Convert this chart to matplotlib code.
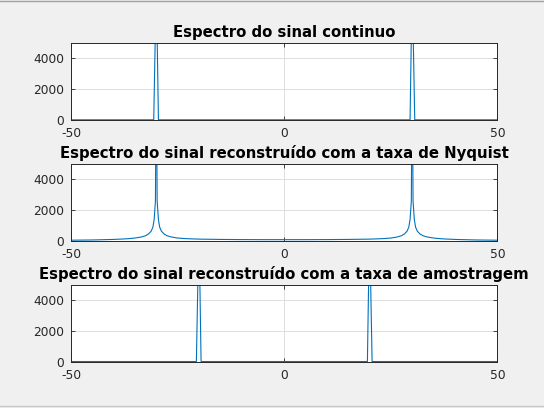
import matplotlib
matplotlib.use("Agg")
import matplotlib.pyplot as plt
from matplotlib.lines import Line2D

# spectrum of the continuous signal (peaks at +/-30, clipped at 5000)
f_cont = [-50, -30.6, -30.0, -29.5, 29.5, 30.0, 30.6, 50]
mag_cont = [10, 10, 9000, 10, 10, 9000, 10, 10]

# spectrum reconstructed at the Nyquist rate (peaks at +/-30 with 1/f-like tails)
f_nyq = [-50, -45, -40, -37, -35, -33.5, -32.5, -31.8, -31.2, -30.8, -30.5, -30.2,
         -30.0,
         -29.8, -29.5, -29.2, -28.8, -28.2, -27.5, -26.5, -25, -23, -20, -15, -10, -5,
         0,
         5, 10, 15, 20, 23, 25, 26.5, 27.5, 28.2, 28.8, 29.2, 29.5, 29.8,
         30.0,
         30.2, 30.5, 30.8, 31.2, 31.8, 32.5, 33.5, 35, 37, 40, 45, 50]
mag_nyq = [60, 75, 110, 150, 200, 270, 350, 470, 650, 900, 1400, 2600,
           12000,
           2600, 1400, 900, 650, 470, 350, 270, 200, 160, 130, 110, 100, 95,
           95,
           95, 100, 110, 130, 160, 200, 270, 350, 470, 650, 900, 1400, 2600,
           12000,
           2600, 1400, 900, 650, 470, 350, 270, 200, 150, 110, 75, 60]

# spectrum reconstructed at the sampling rate (peaks at +/-20)
f_samp = [-50, -20.6, -20.0, -19.5, 19.5, 20.0, 20.6, 50]
mag_samp = [10, 10, 9000, 10, 10, 9000, 10, 10]

titles = ["Espectro do sinal continuo",
          "Espectro do sinal reconstruído com a taxa de Nyquist",
          "Espectro do sinal reconstruído com a taxa de amostragem"]
x_ticks = [-50, 0, 50]
y_ticks = [0, 2000, 4000]

plt.rcParams["axes.unicode_minus"] = False
plt.rcParams["font.family"] = "DejaVu Sans"

fig = plt.figure(figsize=(5.44, 4.08), dpi=100)
fig.patch.set_facecolor("#F0F0F0")

left, width, height = 0.1305, 0.784, 0.189
bottoms = [0.706, 0.409, 0.1135]
series = [(f_cont, mag_cont), (f_nyq, mag_nyq), (f_samp, mag_samp)]
dark = "#262626"

for bottom, (f, m), title in zip(bottoms, series, titles):
    ax = fig.add_axes([left, bottom, width, height])
    ax.plot(f, m, color="#0072BD", linewidth=0.8)
    ax.set_xlim(-50, 50)
    ax.set_ylim(0, 5000)
    ax.set_xticks(x_ticks)
    ax.set_yticks(y_ticks)
    ax.grid(True, color="#DFDFDF", linewidth=0.7)
    ax.set_axisbelow(True)
    ax.tick_params(direction="in", top=True, right=True, length=3, width=0.6,
                   labelsize=8.8, colors=dark, pad=5)
    for sp in ax.spines.values():
        sp.set_color(dark)
        sp.set_linewidth(0.7)
    ax.set_title(title, fontsize=10.7, fontweight="bold", color="black", pad=4)

# window frame lines
fig.add_artist(Line2D([0, 1], [0.997, 0.997], color="#A0A0A0", linewidth=1,
                      transform=fig.transFigure))
fig.add_artist(Line2D([0, 1], [0.005, 0.005], color="#C8C8C8", linewidth=1,
                      transform=fig.transFigure))

fig.savefig("out.png", dpi=100, facecolor=fig.get_facecolor())
